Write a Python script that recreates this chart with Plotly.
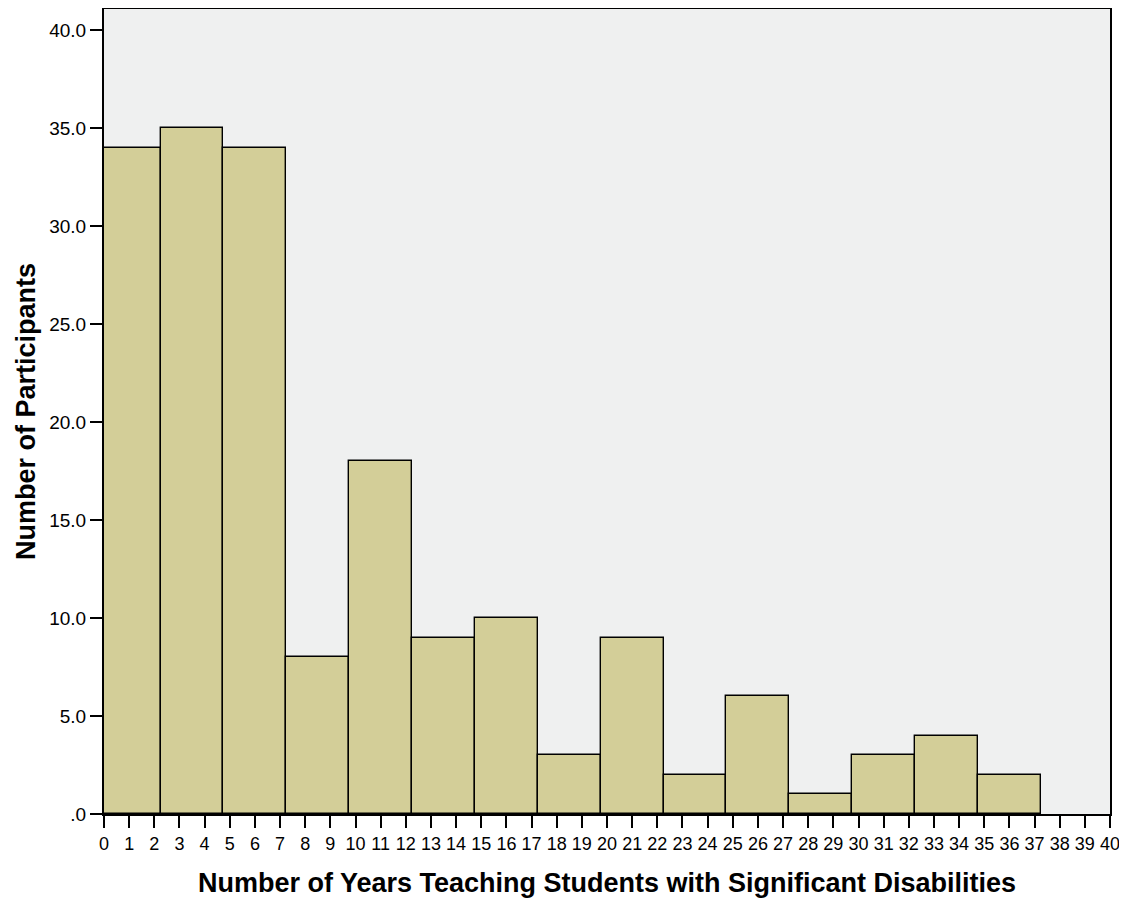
import plotly.graph_objects as go

bin_starts = [-0.25 + 2.5 * i for i in range(15)]
counts = [34, 35, 34, 8, 18, 9, 10, 3, 9, 2, 6, 1, 3, 4, 2]
bin_width = 2.5
x_ticks = list(range(0, 41))
y_ticks = [0, 5, 10, 15, 20, 25, 30, 35, 40]
y_tick_labels = [".0", "5.0", "10.0", "15.0", "20.0", "25.0", "30.0", "35.0", "40.0"]

centers = [s + bin_width / 2 for s in bin_starts]

fig = go.Figure(go.Bar(
    x=centers, y=counts, width=[bin_width] * len(counts),
    marker=dict(color="#D3CE98", line=dict(color="black", width=1.4)),
    hoverinfo="skip",
))

font = "Liberation Sans, Arial, sans-serif"
# page body has an 8px default margin, so offset the figure accordingly
fig.update_layout(
    width=1119, height=893,
    margin=dict(l=96, r=17, t=1, b=87, autoexpand=False),
    paper_bgcolor="white", plot_bgcolor="#EFF0F0",
    showlegend=False, bargap=0,
    font=dict(family=font, color="black"),
)
fig.update_xaxes(
    range=[0, 40], tickvals=x_ticks, ticktext=[str(v) for v in x_ticks],
    ticks="outside", ticklen=12, tickwidth=2, tickcolor="black",
    showline=True, linecolor="black", linewidth=2, mirror=True,
    showgrid=False, zeroline=False, tickfont=dict(size=18),
    automargin=False,
    title=dict(text="<b>Number of Years Teaching Students with Significant Disabilities</b>",
               font=dict(size=27), standoff=21),
)
fig.update_yaxes(
    range=[0, 41.07], tickvals=y_ticks, ticktext=y_tick_labels,
    ticks="outside", ticklen=12, tickwidth=2, tickcolor="black",
    showline=True, linecolor="black", linewidth=2, mirror=True,
    showgrid=False, zeroline=False, tickfont=dict(size=19),
    automargin=False,
    title=dict(text="<b>Number of Participants</b>", font=dict(size=27), standoff=6),
)
fig.write_html("out.html")
